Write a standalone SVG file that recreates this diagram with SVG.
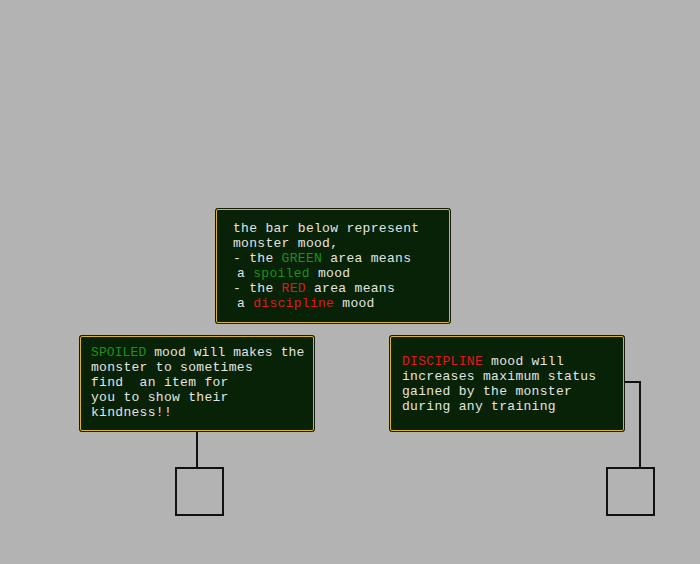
<svg xmlns="http://www.w3.org/2000/svg" width="700" height="564" viewBox="0 0 700 564">
<style>
.box{fill:#082208;stroke:#1a1a0a;stroke-width:1}
.inner{fill:none;stroke:#d9b41e;stroke-width:1}
.t{font-family:"Liberation Mono","DejaVu Sans Mono",monospace;font-size:13px;fill:#e4e4e0;letter-spacing:0.3px}
.g{fill:#1f8f1f}
.r{fill:#e01818}
.conn{fill:none;stroke:#111;stroke-width:2}
.sq{fill:none;stroke:#111;stroke-width:2}
</style>
<rect width="700" height="564" fill="#b3b3b3"/>
<g id="connectors">
<path class="conn" d="M197 432 V468"/>
<path class="conn" d="M625 382 H640 V468"/>
</g>
<g id="node-top">
<rect class="box" x="215.5" y="208.5" width="235" height="115" rx="2"/>
<rect class="inner" x="216.5" y="209.5" width="233" height="113" rx="1.5"/>
<text class="t" x="233" y="232">the bar below represent</text>
<text class="t" x="233" y="247">monster mood,</text>
<text class="t" x="233" y="262">- the <tspan class="g">GREEN</tspan> area means</text>
<text class="t" x="237" y="277">a <tspan class="g">spoiled</tspan> mood</text>
<text class="t" x="233" y="292">- the <tspan class="r">RED</tspan> area means</text>
<text class="t" x="237" y="307">a <tspan class="r">discipline</tspan> mood</text>
</g>
<g id="node-left">
<rect class="box" x="79.5" y="335.5" width="235" height="96" rx="2"/>
<rect class="inner" x="80.5" y="336.5" width="233" height="94" rx="1.5"/>
<text class="t" x="91" y="356" style="letter-spacing:0.1px"><tspan class="g">SPOILED</tspan> mood will makes the</text>
<text class="t" x="91" y="371">monster to sometimes</text>
<text class="t" x="91" y="386" xml:space="preserve">find  an item for</text>
<text class="t" x="91" y="401">you to show their</text>
<text class="t" x="91" y="416">kindness!!</text>
</g>
<g id="node-right">
<rect class="box" x="389.5" y="335.5" width="235" height="96" rx="2"/>
<rect class="inner" x="390.5" y="336.5" width="233" height="94" rx="1.5"/>
<text class="t" x="402" y="365"><tspan class="r">DISCIPLINE</tspan> mood will</text>
<text class="t" x="402" y="380">increases maximum status</text>
<text class="t" x="402" y="395">gained by the monster</text>
<text class="t" x="402" y="410">during any training</text>
</g>
<g id="square-left">
<rect class="sq" x="176" y="468" width="47" height="47"/>
</g>
<g id="square-right">
<rect class="sq" x="607" y="468" width="47" height="47"/>
</g>
</svg>
